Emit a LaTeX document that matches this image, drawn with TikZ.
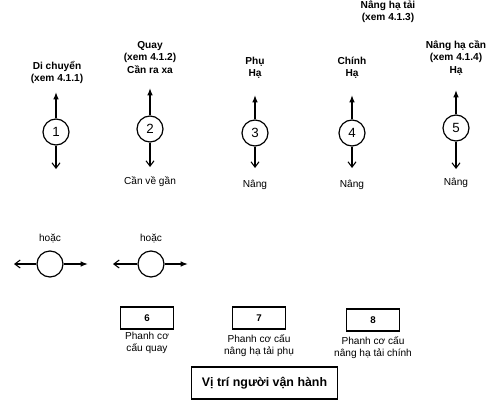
\documentclass[tikz,border=0pt]{standalone}
\usepackage{fontspec}
\setmainfont{Liberation Sans}
\usetikzlibrary{arrows.meta}

\begin{document}
\begin{tikzpicture}[x=0.75pt, y=-0.75pt,
      dial/.style={circle, draw, line width=0.9pt, minimum size=19.5pt, inner sep=0pt, font=\fontsize{10}{12}\selectfont},
      head/.style={font=\bfseries\fontsize{7.6}{9.2}\selectfont, align=center},
      note/.style={font=\fontsize{7.6}{9.2}\selectfont, align=center},
      brake/.style={rectangle, draw, line width=0.9pt, minimum width=39.75pt, minimum height=16.5pt, inner sep=0pt, font=\bfseries\fontsize{7.3}{9}\selectfont},
      fwd/.style={-{Latex[length=5.5pt, width=4.2pt]}, line width=1pt},
      back/.style={-{Straight Barb[length=4pt, width=6pt]}, line width=0.8pt},
    ]
    \useasboundingbox (0,0) rectangle (502,403);

    % dials
    \node[dial] (c1) at (56,132) {1};
    \node[dial] (c2) at (150,129) {2};
    \node[dial] (c3) at (255,133) {3};
    \node[dial] (c4) at (352,133) {4};
    \node[dial] (c5) at (456,128) {5};

    \coordinate (u1) at (56,92);
    \coordinate (u2) at (150,88);
    \coordinate (u3) at (255,95);
    \coordinate (u4) at (352,95);
    \coordinate (u5) at (456,90);
    \coordinate (d1) at (56,169);
    \coordinate (d2) at (150,167);
    \coordinate (d3) at (255,168);
    \coordinate (d4) at (352,168);
    \coordinate (d5) at (456,169);

    \draw[fwd] (c1) -- (u1);
    \draw[fwd] (c2) -- (u2);
    \draw[fwd] (c3) -- (u3);
    \draw[fwd] (c4) -- (u4);
    \draw[fwd] (c5) -- (u5);
    \draw[back] (c1) -- (d1);
    \draw[back] (c2) -- (d2);
    \draw[back] (c3) -- (d3);
    \draw[back] (c4) -- (d4);
    \draw[back] (c5) -- (d5);

    % labels
    \node[head] (l1) at (57,72.5) {Di chuyển\\(xem 4.1.1)};
    \node[head] (l2) at (150,57.5) {Quay\\(xem 4.1.2)\\Cần ra xa};
    \node[head] (l3) at (255,67.5) {Phụ\\Hạ};
    \node[head] (l4) at (352,67.5) {Chính\\Hạ};
    \node[head] (l5) at (456,58) {Nâng hạ cần\\(xem 4.1.4)\\Hạ};
    \node[head] (load) at (388,11.5) {Nâng hạ tải\\(xem 4.1.3)};

    \node[note] (n2) at (150,182) {Cần về gần};
    \node[note] (n3) at (255,185) {Nâng};
    \node[note] (n4) at (352,185) {Nâng};
    \node[note] (n5) at (456,183) {Nâng};

    % or
    \node[dial] (o1) at (50,264) {};
    \node[dial] (o2) at (151,264) {};
    \node[note] at (50,239) {hoặc};
    \node[note] at (151,239) {hoặc};
    \coordinate (ol1) at (14,264);
    \coordinate (or1) at (88,264);
    \coordinate (ol2) at (113,264);
    \coordinate (or2) at (188,264);
    \draw[back] (o1) -- (ol1);
    \draw[fwd] (o1) -- (or1);
    \draw[back] (o2) -- (ol2);
    \draw[fwd] (o2) -- (or2);

    % brakes
    \node[brake] (b6) at (147,318) {6};
    \node[brake] (b7) at (259,318) {7};
    \node[brake] (b8) at (373,320) {8};
    \node[note] at (147,343) {Phanh cơ\\cấu quay};
    \node[note] at (259,346) {Phanh cơ cấu\\nâng hạ tải phụ};
    \node[note] at (373,347.5) {Phanh cơ cấu\\nâng hạ tải chính};

    \node[rectangle, draw, line width=0.9pt, minimum width=110pt, minimum height=24pt, font=\bfseries\fontsize{9.3}{11}\selectfont] (op) at (264.5,383) {Vị trí người vận hành};
  \end{tikzpicture}
\end{document}
